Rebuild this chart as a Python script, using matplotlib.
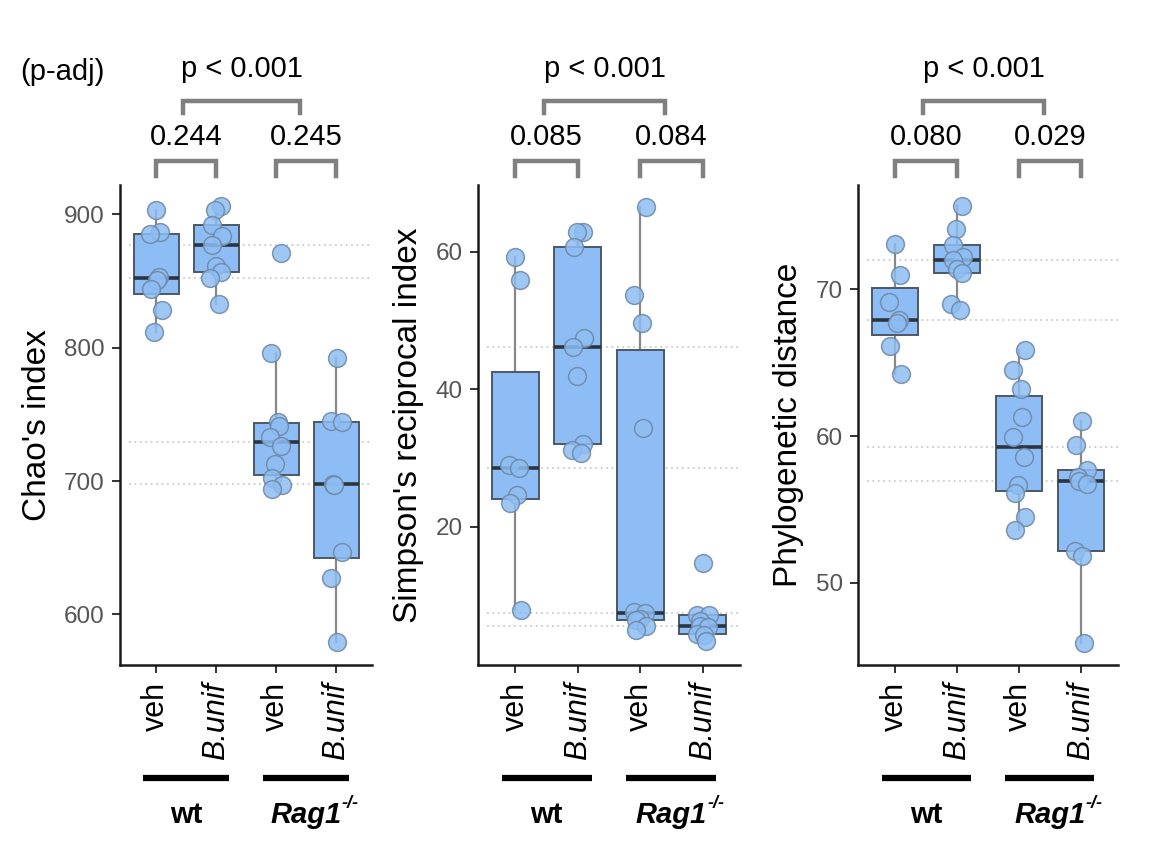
import matplotlib.pyplot as plt
import matplotlib.transforms as mtransforms
import numpy as np

plt.rcParams['font.family'] = ['Liberation Sans', 'DejaVu Sans']

groups = ['veh', 'B.unif', 'veh', 'B.unif']

chao_wt_veh = [903, 887, 885, 853, 851, 844, 828, 812]
chao_wt_bunif = [906, 903, 892, 884, 877, 861, 857, 852, 833]
chao_rag_veh = [871, 796, 744, 741, 733, 726, 713, 702, 697, 694]
chao_rag_bunif = [792, 745, 744, 698, 697, 647, 627, 579]

simp_wt_veh = [59.2, 55.9, 29.0, 28.6, 24.6, 23.4, 7.9]
simp_wt_bunif = [62.8, 62.8, 60.7, 47.4, 46.2, 41.9, 32.1, 31.1, 30.7]
simp_rag_veh = [66.5, 53.7, 49.6, 34.3, 7.6, 7.4, 6.6, 6.4, 5.5, 5.0]
simp_rag_bunif = [14.7, 7.2, 7.1, 6.3, 5.5, 5.4, 4.4, 4.2, 3.4]

phylo_wt_veh = [73.1, 71.0, 69.1, 67.9, 67.7, 66.1, 64.2]
phylo_wt_bunif = [75.7, 74.1, 73.0, 72.2, 72.0, 71.4, 71.1, 69.0, 68.6]
phylo_rag_veh = [65.85, 64.5, 63.2, 61.3, 59.9, 58.6, 56.65, 56.1, 54.5, 53.6]
phylo_rag_bunif = [61.0, 59.4, 57.7, 57.2, 56.95, 56.7, 52.2, 51.8, 45.9]

ylabels = ["Chao's index", "Simpson's reciprocal index", "Phylogenetic distance"]
yticks = [[600, 700, 800, 900], [20, 40, 60], [50, 60, 70]]
p_top = ['p < 0.001', 'p < 0.001', 'p < 0.001']
p_pairs = [('0.244', '0.245'), ('0.085', '0.084'), ('0.080', '0.029')]

panels = [
    [chao_wt_veh, chao_wt_bunif, chao_rag_veh, chao_rag_bunif],
    [simp_wt_veh, simp_wt_bunif, simp_rag_veh, simp_rag_bunif],
    [phylo_wt_veh, phylo_wt_bunif, phylo_rag_veh, phylo_rag_bunif],
]
ylims = [(562, 922), (-0.1, 69.7), (44.4, 77.1)]

W, H = 1174, 844
fig = plt.figure(figsize=(W / 100, H / 100), dpi=100)
lefts = [120, 478, 858]
widths = [252, 262, 260]


def fy(px):
    return 1 - px / H


box_fc = '#8EBDF6'
pt_fc = '#8DBDF3'

for k in range(3):
    ax = fig.add_axes([lefts[k] / W, fy(665), widths[k] / W, 480 / H])
    vals = panels[k]
    ax.set_xlim(0.4, 4.6)
    ax.set_ylim(*ylims[k])

    meds = [np.median(v) for v in vals]
    ax.hlines(meds, 0.55, 4.6, colors='#cccccc', linestyles=(0, (1, 2)),
              lw=1.3, zorder=0)

    bp = ax.boxplot(vals, positions=[1, 2, 3, 4], widths=0.75, patch_artist=True,
                    showcaps=False, showfliers=False)
    for b in bp['boxes']:
        b.set(facecolor=box_fc, edgecolor='#4B5866', lw=1.4, zorder=2)
    for w in bp['whiskers']:
        w.set(color='#888888', lw=1.6, zorder=1)
    for m in bp['medians']:
        m.set(color='#2B3440', lw=2.6, zorder=3)

    for i, v in enumerate(vals):
        n = len(v)
        jit = 0.1 * np.sin(np.arange(n) * 2.3 + i)
        ax.scatter(np.full(n, i + 1) + jit, v, s=165, color=pt_fc, alpha=0.85,
                   edgecolors='#6E86A3', linewidths=1.1, zorder=4, clip_on=False)

    for side in ['top', 'right']:
        ax.spines[side].set_visible(False)
    for side in ['left', 'bottom']:
        ax.spines[side].set_linewidth(1.8)
        ax.spines[side].set_color('#1a1a1a')

    ax.set_yticks(yticks[k])
    ax.set_xticks([1, 2, 3, 4])
    ax.set_xticklabels(groups, rotation=90, fontsize=22)
    for lbl in ax.get_xticklabels():
        if lbl.get_text() == 'B.unif':
            lbl.set_style('italic')
    ax.tick_params(axis='y', length=6, width=1.4, color='#333333',
                   labelsize=17.5, labelcolor='#555555', pad=5)
    ax.tick_params(axis='x', length=6, width=1.4, color='#333333', pad=6)
    ax.set_ylabel(ylabels[k], fontsize=24, labelpad=8)

    trans = mtransforms.blended_transform_factory(ax.transData, fig.transFigure)
    gray = '#808080'
    # pairwise brackets
    for a, b, txt in [(1, 2, p_pairs[k][0]), (3, 4, p_pairs[k][1])]:
        ax.plot([a, a, b, b], [fy(176), fy(161), fy(161), fy(176)], transform=trans,
                clip_on=False, color=gray, lw=3.2, solid_joinstyle='miter')
        ax.text((a + b) / 2, fy(137), txt, transform=trans, ha='center',
                va='center', fontsize=21)
    # top bracket
    ax.plot([1.45, 1.45, 3.4, 3.4], [fy(113), fy(101), fy(101), fy(113)],
            transform=trans, clip_on=False, color=gray, lw=3.2,
            solid_joinstyle='miter')
    ax.text(2.43, fy(69), p_top[k], transform=trans, ha='center', va='center',
            fontsize=21)

    # genotype bars and labels
    for c in [1.5, 3.5]:
        ax.plot([c - 0.72, c + 0.72], [fy(778), fy(778)], transform=trans,
                clip_on=False, color='black', lw=4.5, solid_capstyle='butt')
    ax.text(1.5, fy(815), 'wt', transform=trans, ha='center', va='center',
            fontsize=21, fontweight='bold')
    rag = ax.text(3.5, fy(815), 'Rag1', transform=trans, ha='center',
                  va='center', fontsize=21, fontweight='bold', style='italic')
    ax.annotate('-/-', xy=(1.0, 0.9), xycoords=rag, ha='left', va='center',
                fontsize=13, fontweight='bold', style='italic')

fig.text(20 / W, fy(72), '(p-adj)', ha='left', va='center', fontsize=21)

fig.savefig('out.png', dpi=100)
